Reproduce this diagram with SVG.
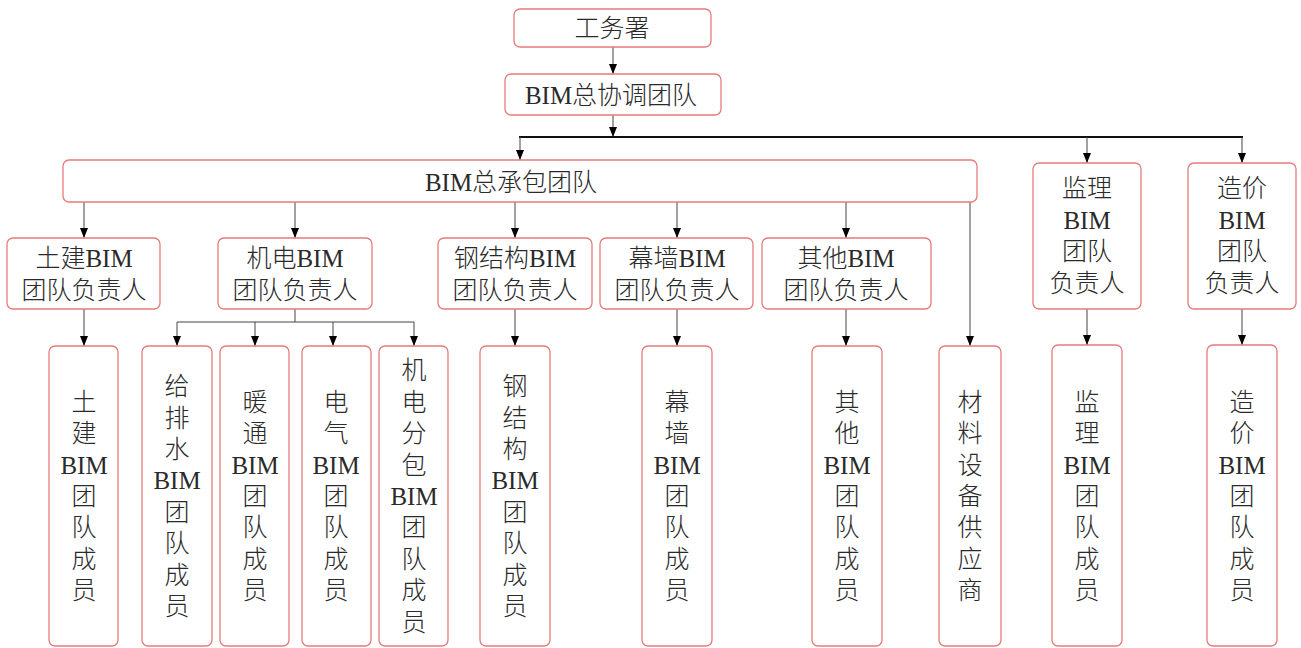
<svg xmlns="http://www.w3.org/2000/svg" width="1301" height="648" viewBox="0 0 1301 648">
<style>
.box{fill:#fff;stroke:#e57b7b;stroke-width:1.3}
.t{font-family:"Liberation Serif","Noto Sans CJK SC",serif;font-size:25px;font-weight:300;fill:#2a2a2a;text-anchor:middle;dominant-baseline:central}
.l{font-weight:400}
.c{fill:none;stroke:#444;stroke-width:1}
.a{marker-end:url(#arr)}
.bus{fill:none;stroke:#111;stroke-width:2}
</style>
<defs>
<marker id="arr" markerUnits="userSpaceOnUse" markerWidth="10" markerHeight="8" refX="10" refY="4" orient="auto">
<path d="M0,0 L10,4 L0,8 z" fill="#000"/>
</marker>
</defs>
<rect width="1301" height="648" fill="#fff"/>
<g id="connectors">
<line class="c a" x1="613" y1="47" x2="613" y2="74"/>
<line class="c a" x1="613" y1="115" x2="613" y2="137"/>
<line class="bus" x1="519" y1="137" x2="1243" y2="137"/>
<line class="c a" x1="520" y1="137" x2="520" y2="160"/>
<line class="c a" x1="1087" y1="137" x2="1087" y2="163"/>
<line class="c a" x1="1242" y1="137" x2="1242" y2="163"/>
<line class="c a" x1="84" y1="202" x2="84" y2="238"/>
<line class="c a" x1="295" y1="202" x2="295" y2="238"/>
<line class="c a" x1="515" y1="202" x2="515" y2="238"/>
<line class="c a" x1="677" y1="202" x2="677" y2="238"/>
<line class="c a" x1="846" y1="202" x2="846" y2="238"/>
<line class="c a" x1="970" y1="202" x2="970" y2="346"/>
<line class="c a" x1="84" y1="309" x2="84" y2="346"/>
<polyline class="c" points="295,309 295,322"/>
<polyline class="c" points="177,322 414,322"/>
<line class="c a" x1="177" y1="322" x2="177" y2="346"/>
<line class="c a" x1="255" y1="322" x2="255" y2="346"/>
<line class="c a" x1="333" y1="322" x2="333" y2="346"/>
<line class="c a" x1="414" y1="322" x2="414" y2="346"/>
<line class="c a" x1="515" y1="309" x2="515" y2="346"/>
<line class="c a" x1="677" y1="309" x2="677" y2="346"/>
<line class="c a" x1="846" y1="309" x2="846" y2="346"/>
<line class="c a" x1="1087" y1="309" x2="1087" y2="345"/>
<line class="c a" x1="1242" y1="309" x2="1242" y2="345"/>
</g>
<g id="gongwushu"><rect class="box" x="514" y="9" width="197" height="38" rx="6"/><text class="t" x="612" y="28">工务署</text></g>
<g id="zongxietiao"><rect class="box" x="505" y="74" width="216" height="41" rx="6"/><text class="t" x="611" y="95"><tspan class="l">BIM</tspan>总协调团队</text></g>
<g id="zongchengbao"><rect class="box" x="63" y="160" width="914" height="42" rx="6"/><text class="t" x="511" y="182"><tspan class="l">BIM</tspan>总承包团队</text></g>
<g id="tujian-lead"><rect class="box" x="7" y="238" width="153" height="71" rx="6"/><text class="t" x="84" y="258">土建<tspan class="l">BIM</tspan></text><text class="t" x="84" y="290">团队负责人</text></g>
<g id="jidian-lead"><rect class="box" x="218" y="238" width="154" height="71" rx="6"/><text class="t" x="295" y="258">机电<tspan class="l">BIM</tspan></text><text class="t" x="295" y="290">团队负责人</text></g>
<g id="gangjiegou-lead"><rect class="box" x="438" y="238" width="154" height="71" rx="6"/><text class="t" x="515" y="258">钢结构<tspan class="l">BIM</tspan></text><text class="t" x="515" y="290">团队负责人</text></g>
<g id="muqiang-lead"><rect class="box" x="600" y="238" width="153" height="71" rx="6"/><text class="t" x="677" y="258">幕墙<tspan class="l">BIM</tspan></text><text class="t" x="677" y="290">团队负责人</text></g>
<g id="qita-lead"><rect class="box" x="762" y="238" width="169" height="71" rx="6"/><text class="t" x="846" y="258">其他<tspan class="l">BIM</tspan></text><text class="t" x="846" y="290">团队负责人</text></g>
<g id="jianli-lead"><rect class="box" x="1033" y="163" width="108" height="146" rx="6"/><text class="t" x="1087" y="188">监理</text><text class="t l" x="1087" y="220">BIM</text><text class="t" x="1087" y="251">团队</text><text class="t" x="1087" y="283">负责人</text></g>
<g id="zaojia-lead"><rect class="box" x="1188" y="163" width="108" height="146" rx="6"/><text class="t" x="1242" y="188">造价</text><text class="t l" x="1242" y="220">BIM</text><text class="t" x="1242" y="251">团队</text><text class="t" x="1242" y="283">负责人</text></g>
<g id="tujian-member"><rect class="box" x="49" y="346" width="69" height="300" rx="6"/>
<text class="t" x="84" y="402">土</text><text class="t" x="84" y="433">建</text><text class="t l" x="84" y="465">BIM</text><text class="t" x="84" y="496">团</text><text class="t" x="84" y="527">队</text><text class="t" x="84" y="559">成</text><text class="t" x="84" y="590">员</text></g>
<g id="geipaishui-member"><rect class="box" x="142" y="346" width="70" height="300" rx="6"/>
<text class="t" x="177" y="386">给</text><text class="t" x="177" y="418">排</text><text class="t" x="177" y="449">水</text><text class="t l" x="177" y="480">BIM</text><text class="t" x="177" y="512">团</text><text class="t" x="177" y="543">队</text><text class="t" x="177" y="575">成</text><text class="t" x="177" y="606">员</text></g>
<g id="nuantong-member"><rect class="box" x="220" y="346" width="69" height="300" rx="6"/>
<text class="t" x="255" y="402">暖</text><text class="t" x="255" y="433">通</text><text class="t l" x="255" y="465">BIM</text><text class="t" x="255" y="496">团</text><text class="t" x="255" y="527">队</text><text class="t" x="255" y="559">成</text><text class="t" x="255" y="590">员</text></g>
<g id="dianqi-member"><rect class="box" x="302" y="346" width="69" height="300" rx="6"/>
<text class="t" x="336" y="402">电</text><text class="t" x="336" y="433">气</text><text class="t l" x="336" y="465">BIM</text><text class="t" x="336" y="496">团</text><text class="t" x="336" y="527">队</text><text class="t" x="336" y="559">成</text><text class="t" x="336" y="590">员</text></g>
<g id="jidianfenbao-member"><rect class="box" x="379" y="346" width="69" height="300" rx="6"/>
<text class="t" x="414" y="370">机</text><text class="t" x="414" y="402">电</text><text class="t" x="414" y="433">分</text><text class="t" x="414" y="465">包</text><text class="t l" x="414" y="496">BIM</text><text class="t" x="414" y="527">团</text><text class="t" x="414" y="559">队</text><text class="t" x="414" y="590">成</text><text class="t" x="414" y="622">员</text></g>
<g id="gangjiegou-member"><rect class="box" x="480" y="346" width="70" height="300" rx="6"/>
<text class="t" x="515" y="386">钢</text><text class="t" x="515" y="418">结</text><text class="t" x="515" y="449">构</text><text class="t l" x="515" y="480">BIM</text><text class="t" x="515" y="512">团</text><text class="t" x="515" y="543">队</text><text class="t" x="515" y="575">成</text><text class="t" x="515" y="606">员</text></g>
<g id="muqiang-member"><rect class="box" x="642" y="346" width="70" height="300" rx="6"/>
<text class="t" x="677" y="402">幕</text><text class="t" x="677" y="433">墙</text><text class="t l" x="677" y="465">BIM</text><text class="t" x="677" y="496">团</text><text class="t" x="677" y="527">队</text><text class="t" x="677" y="559">成</text><text class="t" x="677" y="590">员</text></g>
<g id="qita-member"><rect class="box" x="812" y="346" width="70" height="300" rx="6"/>
<text class="t" x="847" y="402">其</text><text class="t" x="847" y="433">他</text><text class="t l" x="847" y="465">BIM</text><text class="t" x="847" y="496">团</text><text class="t" x="847" y="527">队</text><text class="t" x="847" y="559">成</text><text class="t" x="847" y="590">员</text></g>
<g id="cailiao-supplier"><rect class="box" x="939" y="346" width="62" height="300" rx="6"/>
<text class="t" x="970" y="402">材</text><text class="t" x="970" y="433">料</text><text class="t" x="970" y="465">设</text><text class="t" x="970" y="496">备</text><text class="t" x="970" y="527">供</text><text class="t" x="970" y="559">应</text><text class="t" x="970" y="590">商</text></g>
<g id="jianli-member"><rect class="box" x="1052" y="345" width="70" height="301" rx="6"/>
<text class="t" x="1087" y="402">监</text><text class="t" x="1087" y="433">理</text><text class="t l" x="1087" y="465">BIM</text><text class="t" x="1087" y="496">团</text><text class="t" x="1087" y="527">队</text><text class="t" x="1087" y="559">成</text><text class="t" x="1087" y="590">员</text></g>
<g id="zaojia-member"><rect class="box" x="1207" y="345" width="70" height="301" rx="6"/>
<text class="t" x="1242" y="402">造</text><text class="t" x="1242" y="433">价</text><text class="t l" x="1242" y="465">BIM</text><text class="t" x="1242" y="496">团</text><text class="t" x="1242" y="527">队</text><text class="t" x="1242" y="559">成</text><text class="t" x="1242" y="590">员</text></g>
</svg>
